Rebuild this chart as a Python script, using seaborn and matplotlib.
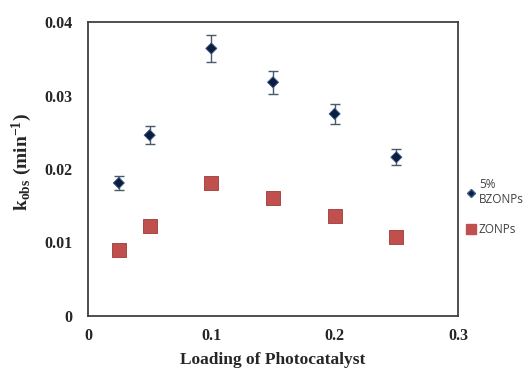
import numpy as np
import pandas as pd
import matplotlib
matplotlib.use("Agg")
import matplotlib.pyplot as plt
import seaborn as sns
from matplotlib.lines import Line2D

loading = [0.025, 0.05, 0.1, 0.15, 0.2, 0.25]
bzonps = [0.0181, 0.0246, 0.0364, 0.0318, 0.0275, 0.0216]
bzonps_err = [0.0009, 0.0012, 0.0018, 0.0016, 0.0014, 0.0011]
zonps = [0.0090, 0.0123, 0.0181, 0.0160, 0.0136, 0.0107]
zonps_err = [0.0004, 0.0004, 0.0006, 0.0005, 0.0004, 0.0004]

series_names = ["5%\nBZONPs", "ZONPs"]

df = pd.DataFrame({
    "Loading": loading * 2,
    "kobs": bzonps + zonps,
    "err": bzonps_err + zonps_err,
    "Series": [series_names[0]] * len(loading) + [series_names[1]] * len(loading),
})

sns.set_style("white")
plt.rcParams["font.family"] = ["Liberation Serif", "DejaVu Serif"]
plt.rcParams["mathtext.fontset"] = "custom"
plt.rcParams["mathtext.rm"] = "Liberation Serif:bold"
plt.rcParams["mathtext.bf"] = "Liberation Serif:bold"
plt.rcParams["mathtext.it"] = "Liberation Serif:bold"

fig = plt.figure(figsize=(5.28, 3.70), dpi=100)
ax = fig.add_axes([88 / 528, 1 - 316 / 370, (458 - 88) / 528, (316 - 22) / 370])

for name, col in zip(series_names, ["#4a5a6a", "#8b2f2c"]):
    sub = df[df["Series"] == name]
    ax.errorbar(sub["Loading"], sub["kobs"], yerr=sub["err"], fmt="none",
                ecolor=col, elinewidth=1.0, capsize=3.5, capthick=1.0, zorder=2)

sns.scatterplot(data=df, x="Loading", y="kobs", hue="Series", style="Series", size="Series",
                markers={series_names[0]: "D", series_names[1]: "s"},
                palette={series_names[0]: "#0b1e3f", series_names[1]: "#c0504d"},
                sizes={series_names[0]: 32, series_names[1]: 100},
                edgecolor="#9b3a37", linewidth=0.6,
                ax=ax, zorder=3, legend=False)
ax.collections[-1].set_edgecolors(["#3a5a8a"] * 6 + ["#9b3a37"] * 6)

ax.set_xlim(0, 0.3)
ax.set_ylim(0, 0.04)
ax.set_xticks([0, 0.1, 0.2, 0.3])
ax.set_xticklabels(["0", "0.1", "0.2", "0.3"])
ax.set_yticks([0, 0.01, 0.02, 0.03, 0.04])
ax.set_yticklabels(["0", "0.01", "0.02", "0.03", "0.04"])
ax.tick_params(axis="x", length=0, labelsize=11.5, pad=9)
ax.tick_params(axis="y", length=0, labelsize=11.5, pad=11)
for lab in ax.get_xticklabels() + ax.get_yticklabels():
    lab.set_fontweight("bold")
for sp in ax.spines.values():
    sp.set_color("#404040")
    sp.set_linewidth(1.3)

ax.set_xlabel("Loading of Photocatalyst", fontsize=12.5, fontweight="bold")
ax.xaxis.set_label_coords(0.5, (316 - 368) / (316 - 22), transform=ax.transAxes)
ax.xaxis.label.set_va("bottom")
ax.set_ylabel(r"k$_{\mathrm{obs}}$ (min$^{\mathrm{-1}}$)", fontsize=14, fontweight="bold")
ax.yaxis.set_label_coords((22 - 88) / (458 - 88), (316 - 162) / (316 - 22), transform=ax.transAxes)
ax.yaxis.label.set_va("center")

handles = [
    Line2D([], [], marker="D", color="#0b1e3f", markeredgecolor="#3a5a8a", linestyle="none", markersize=4),
    Line2D([], [], marker="s", color="#c0504d", linestyle="none", markersize=7),
]
leg = fig.legend(handles, series_names, loc="upper left", bbox_to_anchor=(461 / 528, 1 - 173 / 370),
                 frameon=False, prop={"family": "Open Sans", "size": 8.5},
                 handletextpad=0.2, handlelength=0.9, labelspacing=1.5, borderaxespad=0)
for t in leg.get_texts():
    t.set_color("#404040")

fig.savefig("out.png", dpi=100)
